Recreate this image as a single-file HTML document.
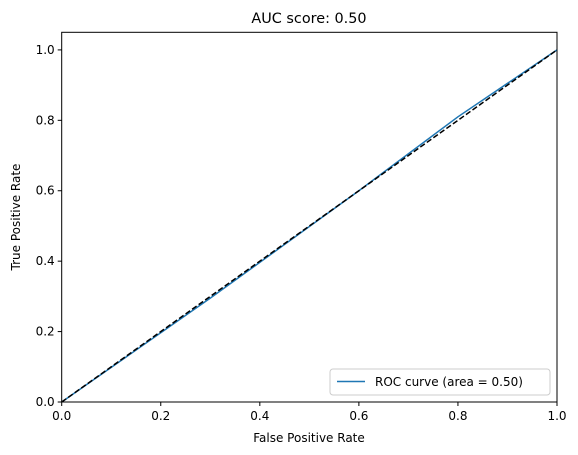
<!DOCTYPE html>
<html><head><meta charset="utf-8"><style>
body{margin:0;background:#fff;}
svg{display:block;font-family:"DejaVu Sans","Liberation Sans",sans-serif;}
</style></head><body>
<svg id="chart" width="578" height="455">
<text x="309" y="23" font-size="14.4" text-anchor="middle">AUC score: 0.50</text>
<g id="ticks"></g>
<g id="plot"></g>
<rect x="61.7" y="32.3" width="495.3" height="369.7" fill="none" stroke="#000" stroke-width="1"/>
<text x="309" y="442" font-size="12" text-anchor="middle">False Positive Rate</text>
<text x="20" y="217" font-size="12" text-anchor="middle" transform="rotate(-90 20 217)">True Positive Rate</text>
<g>
<rect x="330" y="369" width="220" height="26" rx="3" fill="#fff" stroke="#ccc"/>
<line x1="337" y1="381.5" x2="365" y2="381.5" stroke="#1f77b4" stroke-width="1.5"/>
<text x="375" y="386" font-size="12">ROC curve (area = 0.50)</text>
</g>
</svg>
<script>
const fpr=[0,0.3,0.6,0.8,1];
const tpr=[0,0.295,0.6,0.81,1];
const xTicks=[0,0.2,0.4,0.6,0.8,1.0];
const yTicks=[0,0.2,0.4,0.6,0.8,1.0];
const L=61.7,R=557,T=32.3,B=402;
const xs=v=>L+(R-L)*v/1.0;
const ys=v=>B-(B-T)*v/1.05;
const NS="http://www.w3.org/2000/svg";
const tg=document.getElementById('ticks'),pg=document.getElementById('plot');
function mk(tag,a,p){const e=document.createElementNS(NS,tag);for(const k in a)e.setAttribute(k,a[k]);p.appendChild(e);return e;}
xTicks.forEach(v=>{
 const l=mk('line',{x1:xs(v),x2:xs(v),y1:B,y2:B+4,stroke:'#000'},tg);
 
 
 const t=mk('text',{x:xs(v),y:B+18,'font-size':12,'text-anchor':'middle'},tg);t.textContent=v.toFixed(1);
 
 
});
yTicks.forEach(v=>{
 const l=mk('line',{x1:L-4,x2:L,y1:ys(v),y2:ys(v),stroke:'#000'},tg);
 
 
 const t=mk('text',{x:L-7,y:ys(v)+4,'font-size':12,'text-anchor':'end'},tg);t.textContent=v.toFixed(1);
 
 
});
const roc=mk('polyline',{points:fpr.map((f,i)=>xs(f)+','+ys(tpr[i])).join(' '),fill:'none',stroke:'#1f77b4','stroke-width':1.5},pg);


const d=mk('line',{x1:xs(0),y1:ys(0),x2:xs(1),y2:ys(1),stroke:'#000','stroke-width':1.5,'stroke-dasharray':'5.5,2.5'},pg);


</script>
</body></html>
